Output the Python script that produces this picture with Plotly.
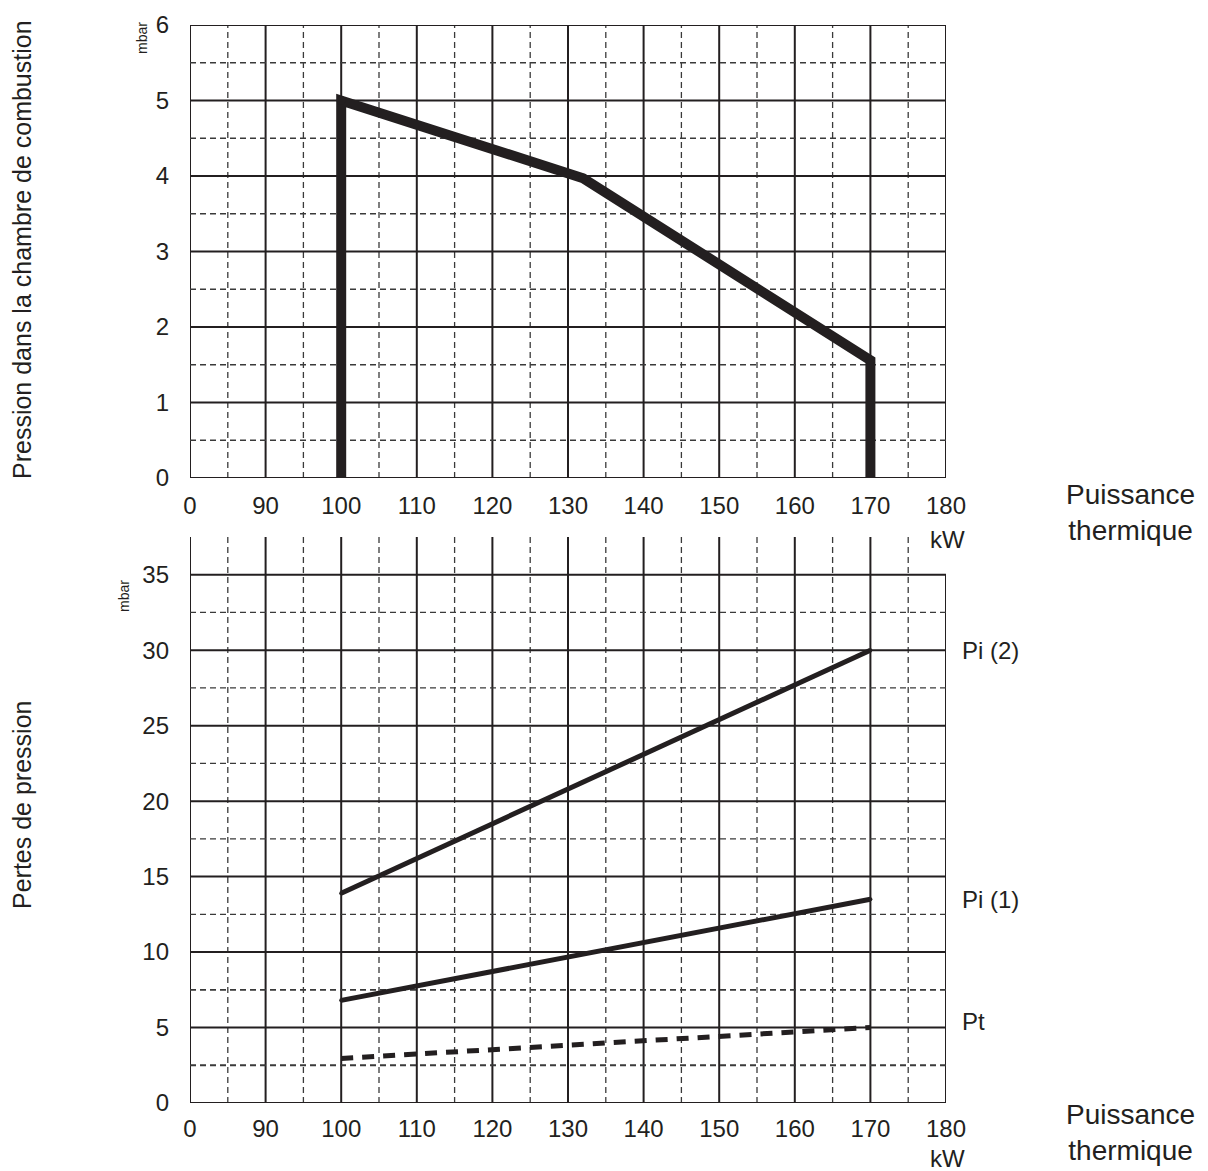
import plotly.graph_objects as go

# top chart: pressure in the combustion chamber (mbar) vs thermal power (kW)
chamber_kw = [100, 100, 132, 170, 170]
chamber_mbar = [0, 5, 3.97, 1.56, 0]

# bottom chart: pressure losses (mbar)
loss_kw = [100, 170]
pi2_mbar = [13.9, 30]
pi1_mbar = [6.8, 13.5]
pt_mbar = [2.95, 5.0]

x_tickvals = [80, 90, 100, 110, 120, 130, 140, 150, 160, 170, 180]
x_ticktext = ["0", "90", "100", "110", "120", "130", "140", "150", "160", "170", "180"]
top_ytick = [0, 1, 2, 3, 4, 5, 6]
bot_ytick = [0, 5, 10, 15, 20, 25, 30, 35]

INK = "#231f20"
FONT = "Liberation Sans, Arial, sans-serif"

# the page body has an 8px margin, so the figure is drawn 8px in from the corner
W, H = 1200, 1163
OFF = 8
ML, MR, MT, MB = 190 - OFF, 262, 25 - OFF, 68

fig = go.Figure()

fig.add_trace(go.Scatter(x=chamber_kw, y=chamber_mbar, mode="lines+markers",
                         line=dict(color=INK, width=10), marker=dict(color=INK, size=9),
                         xaxis="x", yaxis="y"))
fig.add_trace(go.Scatter(x=loss_kw, y=pi2_mbar, mode="lines+markers",
                         line=dict(color=INK, width=5), marker=dict(color=INK, size=4),
                         xaxis="x2", yaxis="y2"))
fig.add_trace(go.Scatter(x=loss_kw, y=pi1_mbar, mode="lines+markers",
                         line=dict(color=INK, width=5), marker=dict(color=INK, size=4),
                         xaxis="x2", yaxis="y2"))
fig.add_trace(go.Scatter(x=loss_kw, y=pt_mbar, mode="lines",
                         line=dict(color=INK, width=5, dash="12px,9px"), xaxis="x2", yaxis="y2"))

shapes = []


def hline(xr, yr, y, x0, x1, dash=None, width=2):
    shapes.append(dict(type="line", xref=xr, yref=yr, x0=x0, x1=x1, y0=y, y1=y, layer="below",
                       line=dict(color=INK if dash is None else "#3a3a3a", width=width,
                                 dash=dash or "solid")))


def vline(xr, yr, x, y0, y1, dash=None, width=2):
    shapes.append(dict(type="line", xref=xr, yref=yr, x0=x, x1=x, y0=y0, y1=y1, layer="below",
                       line=dict(color=INK if dash is None else "#3a3a3a", width=width,
                                 dash=dash or "solid")))


DASH = "6px,4px"

# top grid
for k in range(80, 181, 10):
    vline("x", "y", k, 0, 6)
for k in range(85, 180, 10):
    vline("x", "y", k, 0, 6, DASH, 1.3)
for m in range(0, 7):
    hline("x", "y", m, 80, 180)
for m in range(0, 6):
    hline("x", "y", m + 0.5, 80, 180, DASH, 1.3)

# bottom grid (open at the top, right border stops at 35)
for k in range(80, 171, 10):
    vline("x2", "y2", k, 0, 37.5)
vline("x2", "y2", 180, 0, 35)
for k in range(85, 180, 10):
    vline("x2", "y2", k, 0, 37.5, DASH, 1.3)
for m in range(0, 36, 5):
    hline("x2", "y2", m, 80, 180)
for m in range(0, 35, 5):
    w = 1.8 if m + 2.5 in (2.5, 7.5) else 1.3
    hline("x2", "y2", m + 2.5, 80, 180, DASH, w)

axis_font = dict(family=FONT, size=24, color=INK)

plot_h = H - MT - MB
top_dom = (1103 - 478) / (1103 - 25)
bot_dom = (1103 - 537) / (1103 - 25)

common = dict(showgrid=False, zeroline=False, ticks="", automargin=False, tickfont=axis_font)

fig.update_layout(
    width=W, height=H,
    margin=dict(l=ML, r=MR, t=MT, b=MB, autoexpand=False),
    paper_bgcolor="white", plot_bgcolor="white",
    showlegend=False,
    shapes=shapes,
    xaxis=dict(domain=[0, 1], range=[80, 180], anchor="y", tickvals=x_tickvals, ticktext=x_ticktext,
               ticklabelstandoff=11, **common),
    yaxis=dict(domain=[top_dom, 1], range=[0, 6], anchor="x", tickvals=top_ytick,
               ticklabelstandoff=20, **common),
    xaxis2=dict(domain=[0, 1], range=[80, 180], anchor="y2", tickvals=x_tickvals, ticktext=x_ticktext,
                ticklabelstandoff=9, **common),
    yaxis2=dict(domain=[0, bot_dom], range=[0, 37.5], anchor="x2", tickvals=bot_ytick,
                ticklabelstandoff=20, **common),
)

title_font = dict(family=FONT, size=25, color=INK)
big = dict(family=FONT, size=28, color=INK)
mid = dict(family=FONT, size=24, color=INK)
small = dict(family=FONT, size=14, color=INK)

# positions given in screenshot pixels
annotations = [
    dict(text="Pression dans la chambre de combustion", x=22, y=250, textangle=-90, font=title_font),
    dict(text="Pertes de pression", x=22, y=805, textangle=-90, font=title_font),
    dict(text="mbar", x=142, y=38, textangle=-90, font=small),
    dict(text="mbar", x=124, y=596, textangle=-90, font=small),
    dict(text="kW", x=948, y=539, font=mid),
    dict(text="kW", x=948, y=1158, font=mid),
    dict(text="Puissance<br>thermique", x=1130, y=512, font=big),
    dict(text="Puissance<br>thermique", x=1130, y=1132, font=big),
]
for a in annotations:
    a.update(xref="paper", yref="paper", showarrow=False, xanchor="center", yanchor="middle")
    a["x"] = (a["x"] - OFF - ML) / (W - ML - MR)
    a["y"] = (H - MB - (a["y"] - OFF)) / plot_h
    fig.add_annotation(**a)

# series labels on the right, at the end values
for label, val, dy in [("Pi (2)", pi2_mbar[-1], 0), ("Pi (1)", pi1_mbar[-1], 0), ("Pt", pt_mbar[-1], 0.4)]:
    fig.add_annotation(text=label, x=180, y=val + dy, xref="x2", yref="y2", xanchor="left",
                       yanchor="middle", xshift=14, showarrow=False, font=mid)

fig.write_html("out.html")
